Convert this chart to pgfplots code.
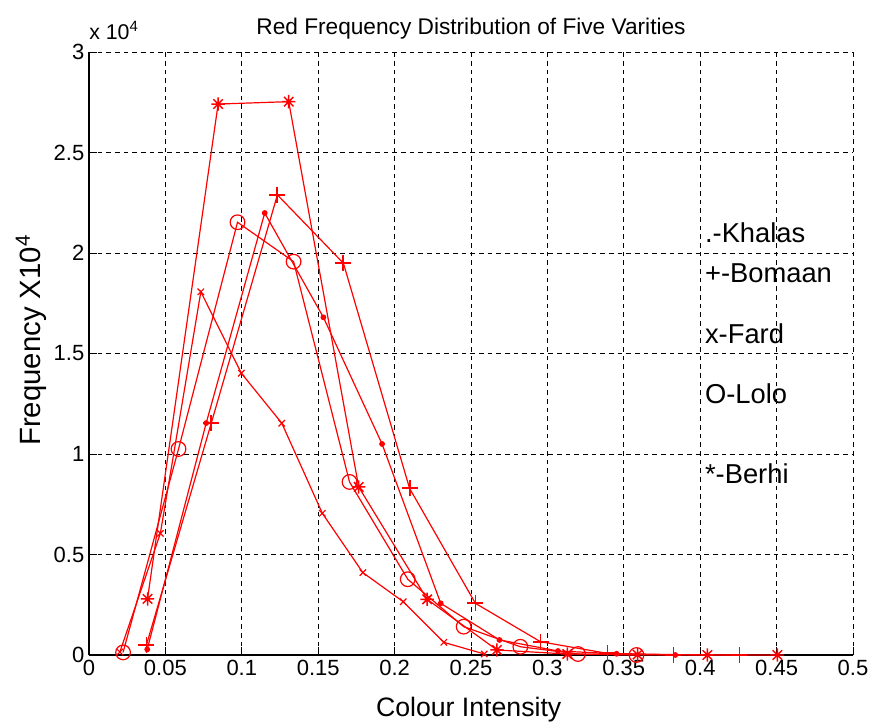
\documentclass[border=0pt]{standalone}
\usepackage{fontspec}
\setmainfont{Liberation Sans}
\usepackage{pgfplots}
\pgfplotsset{compat=1.18}
\pgfdeclareplotmark{mstar}{%
  \pgfpathmoveto{\pgfqpoint{0pt}{\pgfplotmarksize}}\pgfpathlineto{\pgfqpoint{0pt}{-\pgfplotmarksize}}%
  \pgfpathmoveto{\pgfqpoint{\pgfplotmarksize}{0pt}}\pgfpathlineto{\pgfqpoint{-\pgfplotmarksize}{0pt}}%
  \pgfpathmoveto{\pgfqpoint{.7071\pgfplotmarksize}{.7071\pgfplotmarksize}}\pgfpathlineto{\pgfqpoint{-.7071\pgfplotmarksize}{-.7071\pgfplotmarksize}}%
  \pgfpathmoveto{\pgfqpoint{-.7071\pgfplotmarksize}{.7071\pgfplotmarksize}}\pgfpathlineto{\pgfqpoint{.7071\pgfplotmarksize}{-.7071\pgfplotmarksize}}%
  \pgfusepathqstroke}
\pgfdeclareplotmark{mplus}{%
  \pgfpathmoveto{\pgfqpoint{0pt}{\pgfplotmarksize}}\pgfpathlineto{\pgfqpoint{0pt}{-\pgfplotmarksize}}%
  \pgfpathmoveto{\pgfqpoint{\pgfplotmarksize}{0pt}}\pgfpathlineto{\pgfqpoint{-\pgfplotmarksize}{0pt}}%
  \pgfusepathqstroke}
\begin{document}
\begin{tikzpicture}
\path[use as bounding box] (-66.75pt,-50.25pt) rectangle (585.75pt,491.25pt);
\begin{axis}[
  at={(0pt,0pt)}, anchor=south west,
  scale only axis, width=573pt, height=452.25pt,
  xmin=0, xmax=0.5, ymin=0, ymax=3,
  xtick={0,0.05,0.1,0.15,0.2,0.25,0.3,0.35,0.4,0.45,0.5},
  xticklabels={0,0.05,0.1,0.15,0.2,0.25,0.3,0.35,0.4,0.45,0.5},
  ytick={0,0.5,1,1.5,2,2.5,3},
  yticklabels={0,0.5,1,1.5,2,2.5,3},
  axis lines=left,
  axis line style={-, black, line width=0.8pt},
  tick align=inside,
  major tick length=6pt,
  tick style={black, line width=0.6pt},
  grid=major,
  major grid style={black, line width=0.65pt, dash pattern=on 3.5pt off 3pt},
  tick label style={font=\fontsize{16.5}{16.5}\selectfont},
  clip=false,
]
% Khalas
\addplot[color=red, line width=0.9pt, mark=*, mark size=1.7pt, mark options={solid, draw=red, fill=red}] coordinates {
(0.0381,0.028) (0.0767,1.154) (0.1150,2.199) (0.1534,1.680) (0.1918,1.050)
(0.2302,0.257) (0.2686,0.075) (0.3069,0.020) (0.3453,0.006) (0.3837,0.000)};
% Bomaan
\addplot[color=red, line width=0.9pt, mark=mplus, mark size=6pt, mark options={solid, draw=red, line width=1.4pt}] coordinates {
(0.0376,0.050) (0.0800,1.153) (0.1233,2.289) (0.1665,1.949) (0.2098,0.829)
(0.2529,0.257) (0.2955,0.066) (0.3393,0.008) (0.3825,0.002) (0.4257,0.000)};
% Fard
\addplot[color=red, line width=0.9pt, mark=x, mark size=3.4pt, mark options={solid, draw=red}] coordinates {
(0.0202,0.015) (0.0467,0.605) (0.0732,1.807) (0.0997,1.402) (0.1262,1.153)
(0.1527,0.705) (0.1792,0.410) (0.2057,0.265) (0.2322,0.063) (0.2587,0.005)};
% Lolo
\addplot[color=red, line width=0.9pt, mark=o, mark size=5.5pt, mark options={solid, draw=red}] coordinates {
(0.0223,0.013) (0.0586,1.025) (0.0972,2.153) (0.1339,1.957) (0.1705,0.861)
(0.2086,0.377) (0.2452,0.141) (0.2823,0.041) (0.3200,0.005) (0.3583,0.000)};
% Berhi
\addplot[color=red, line width=0.9pt, mark=mstar, mark size=5pt, mark options={solid, draw=red, line width=1.1pt}] coordinates {
(0.0383,0.279) (0.0845,2.741) (0.1307,2.753) (0.1765,0.836) (0.2213,0.277)
(0.2670,0.025) (0.3130,0.005) (0.3590,0.002) (0.4047,0.000) (0.4505,0.000)};

\node[anchor=west, inner sep=0pt, font=\fontsize{20.5}{20.5}\selectfont] at (axis cs:0.403,2.1) {.-Khalas};
\node[anchor=west, inner sep=0pt, font=\fontsize{20.5}{20.5}\selectfont] at (axis cs:0.403,1.9) {+-Bomaan};
\node[anchor=west, inner sep=0pt, font=\fontsize{20.5}{20.5}\selectfont] at (axis cs:0.403,1.6) {x-Fard};
\node[anchor=west, inner sep=0pt, font=\fontsize{20.5}{20.5}\selectfont] at (axis cs:0.403,1.3) {O-Lolo};
\node[anchor=west, inner sep=0pt, font=\fontsize{20.5}{20.5}\selectfont] at (axis cs:0.403,0.9) {*-Berhi};

\node[anchor=base, inner sep=0pt, font=\fontsize{17}{17}\selectfont] at (axis description cs:0.5,1.0282) {Red Frequency Distribution of Five Varities};
\node[anchor=base west, inner sep=0pt, font=\fontsize{16}{16}\selectfont] at (axis description cs:0,1.02) {x 10\textsuperscript{4}};
\node[anchor=base, inner sep=0pt, font=\fontsize{20}{20}\selectfont] at (axis description cs:0.497,-0.1028) {Colour Intensity};
\node[anchor=base, rotate=90, inner sep=0pt, font=\fontsize{22}{22}\selectfont] at (axis description cs:-0.0641,0.522) {Frequency X10\textsuperscript{4}};
\end{axis}
\end{tikzpicture}
\end{document}
